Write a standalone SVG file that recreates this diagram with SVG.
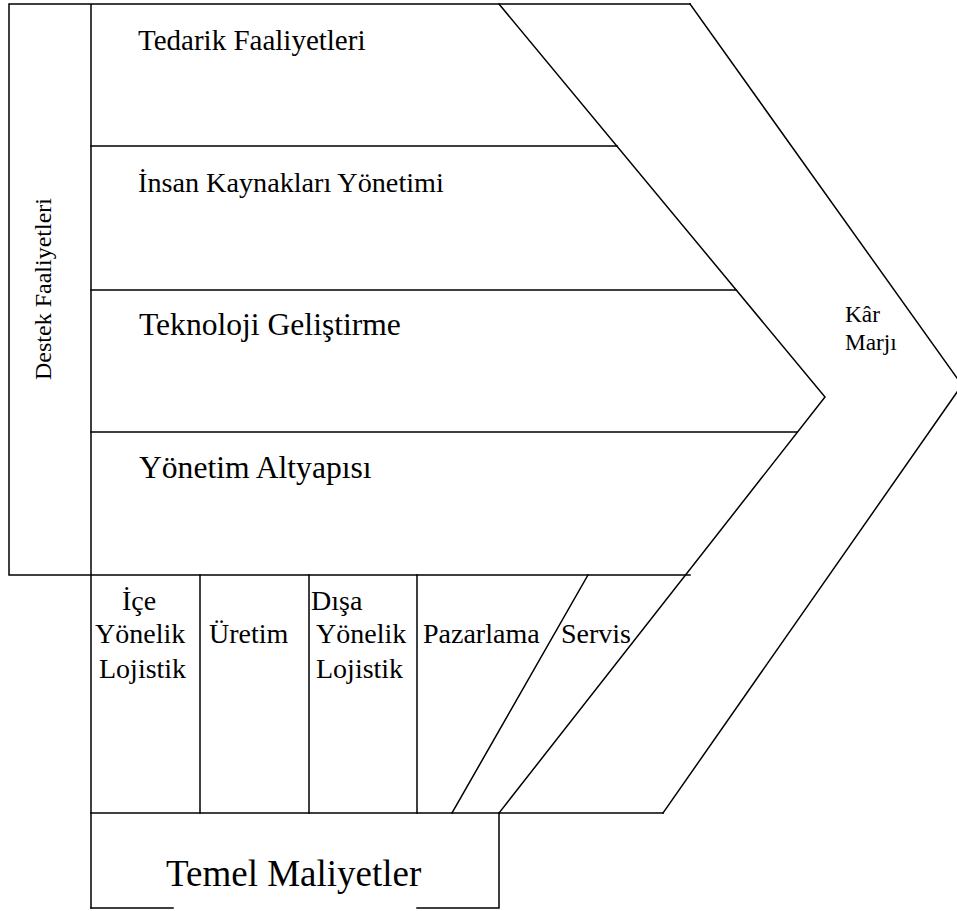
<svg xmlns="http://www.w3.org/2000/svg" width="957" height="911" viewBox="0 0 957 911">
  <style>
    .ln { fill: none; stroke: #000; stroke-width: 1.5; stroke-linecap: square; }
    .t { font-family: "Liberation Serif", "Times New Roman", serif; fill: #000; }
  </style>
  <rect width="957" height="911" fill="#fff"/>

  <!-- Frame: support band, chevrons, primary columns -->
  <g id="frame">
    <path class="ln" d="M9,4 H690 M9,4 V575 M9,575 H690 M91,4 V908"/>
    <path class="ln" d="M91,146 H617 M91,290 H736 M91,432 H797"/>
    <path class="ln" d="M499,4 L825,397 L499,813"/>
    <path class="ln" d="M690,4 L962,385 L663,813"/>
    <path class="ln" d="M91,813 H663"/>
    <path class="ln" d="M200,575 V813 M309,575 V813 M417,575 V813"/>
    <path class="ln" d="M588,575 L452,813"/>
    <path class="ln" d="M499,813 V908 H417 M173,908 H91"/>
  </g>

  <g id="destek">
    <text class="t" font-size="24" text-anchor="middle" transform="translate(51,289) rotate(-90)">Destek Faaliyetleri</text>
  </g>

  <g id="tedarik">
    <text class="t" x="138" y="50" font-size="29">Tedarik Faaliyetleri</text>
  </g>
  <g id="insan-kaynaklari">
    <text class="t" x="138" y="192" font-size="28.2">İnsan Kaynakları Yönetimi</text>
  </g>
  <g id="teknoloji">
    <text class="t" x="139" y="335" font-size="31.6">Teknoloji Geliştirme</text>
  </g>
  <g id="yonetim-altyapisi">
    <text class="t" x="139" y="478" font-size="31.6">Yönetim Altyapısı</text>
  </g>

  <g id="kar-marji">
    <text class="t" x="845" y="322" font-size="23.3">Kâr</text>
    <text class="t" x="845" y="350" font-size="23.3">Marjı</text>
  </g>

  <g id="ice-yonelik-lojistik">
    <text class="t" x="122" y="610" font-size="28">İçe</text>
    <text class="t" x="95" y="643" font-size="28">Yönelik</text>
    <text class="t" x="99" y="678" font-size="28">Lojistik</text>
  </g>
  <g id="uretim">
    <text class="t" x="209" y="643" font-size="28">Üretim</text>
  </g>
  <g id="disa-yonelik-lojistik">
    <text class="t" x="311" y="610" font-size="28">Dışa</text>
    <text class="t" x="316" y="643" font-size="28">Yönelik</text>
    <text class="t" x="316" y="678" font-size="28">Lojistik</text>
  </g>
  <g id="pazarlama">
    <text class="t" x="423" y="643" font-size="28">Pazarlama</text>
  </g>
  <g id="servis">
    <text class="t" x="561" y="643" font-size="28">Servis</text>
  </g>

  <g id="temel-maliyetler">
    <text class="t" x="166" y="886" font-size="37">Temel Maliyetler</text>
  </g>
</svg>
